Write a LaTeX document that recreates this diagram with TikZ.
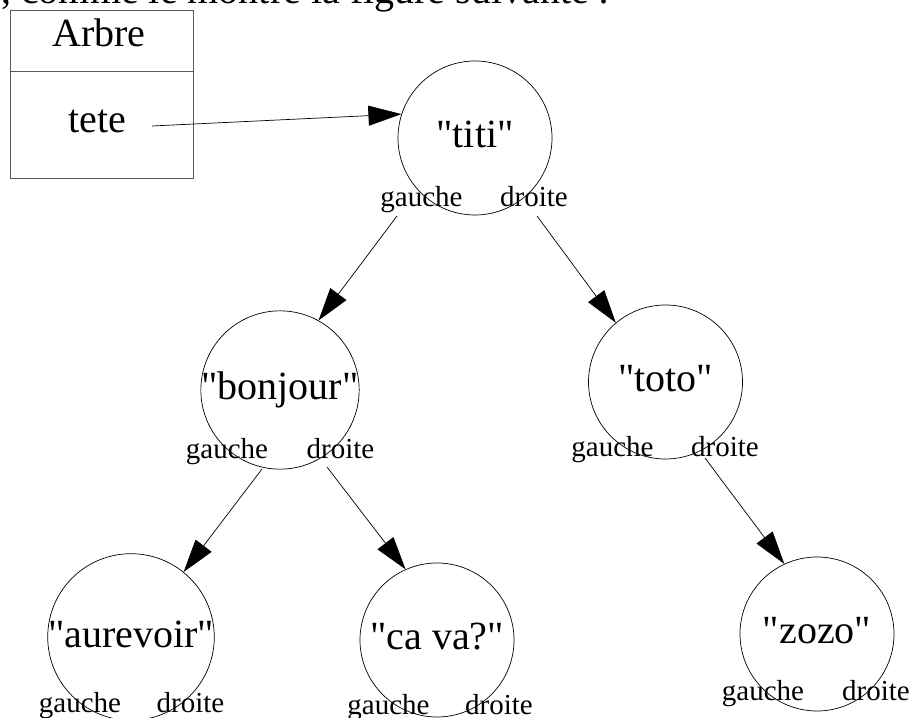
\documentclass[tikz,border=0pt]{standalone}
\usepackage{fontspec}
\setmainfont{Liberation Serif}
\usetikzlibrary{arrows.meta,positioning}
\newcommand{\qt}[1]{\textquotedbl#1\textquotedbl}
\begin{document}
\begin{tikzpicture}[x=1pt,y=1pt]
 		\tikzstyle{elem}=[circle, minimum size = 154pt, inner sep=0pt, draw =black, line width=0.7pt, font=\fontsize{40}{44}\selectfont, text height=20pt, text depth=0pt]
 		\tikzstyle{side}=[anchor=base, inner sep=0pt, font=\fontsize{29}{32}\selectfont]
 		\tikzstyle{connect}=[-{Triangle[length=33pt,width=20pt]}, line width=0.7pt]
 		\tikzstyle{cell}=[rectangle, draw=black!65, line width=0.9pt, minimum width=183pt, inner sep=0pt]
 		\tikzstyle{big}=[anchor=base, inner sep=0pt, font=\fontsize{40}{44}\selectfont]
 		\useasboundingbox (0,0) rectangle (912,717);
 		\node[big, anchor=base west] (intro) at (1,713) {, comme le montre la figure suivante :};
 		% la structure Arbre
 		\node[cell, minimum height=61pt] (arbre) at (101.5,676.5) {};
 		\node[cell, minimum height=107pt] (champ) at (101.5,592.5) {};
 		\node[big] (nom) at (99,670) {Arbre};
 		\node[big] (tete) at (97,584) {tete};
 		\coordinate (ptr) at (152,591);
 		% les noeuds
 		\node[elem] (titi) at (475,579) {\qt{titi}};
 		\node[elem] (bonjour) at (280,327) {\qt{bonjour}};
 			\node[elem] (toto) at (665.5,335) {\qt{toto}};
 				\node[elem] (aurevoir) at (131,80) {\qt{aurevoir}};
 				\node[elem] (cava) at (437,77) {\qt{ca va?}};
 					\node[elem] (zozo) at (817,83) {\qt{zozo}};
 		% gauche / droite
 		\node[side] (titi-g) at (421.5,510) {gauche};
 		\node[side] (titi-d) at (534,510) {droite};
 		\node[side] (bonjour-g) at (227,258) {gauche};
 		\node[side] (bonjour-d) at (340.5,258) {droite};
 		\node[side] (toto-g) at (612.5,260) {gauche};
 		\node[side] (toto-d) at (725,260) {droite};
 		\node[side] (aurevoir-g) at (80,5) {gauche};
 		\node[side] (aurevoir-d) at (190.5,5) {droite};
 		\node[side] (cava-g) at (388.5,3) {gauche};
 		\node[side] (cava-d) at (499,3) {droite};
 		\node[side] (zozo-g) at (763,17) {gauche};
 		\node[side] (zozo-d) at (876,17) {droite};
 		\coordinate (titi-gp) at (397,501);
 		\coordinate (titi-dp) at (537,501);
 		\coordinate (bonjour-gp) at (262,248);
 		\coordinate (bonjour-dp) at (327,250);
 		\coordinate (toto-dp) at (705,259);

  		\path (ptr) edge [connect] (titi.162)
  			(titi-gp) edge [connect] (bonjour.61)
  			(titi-dp) edge [connect] (toto.130)
  				(bonjour-gp) edge [connect] (aurevoir.51)
  				(bonjour-dp) edge [connect] (cava.114)
  					(toto-dp) edge [connect] (zozo.115);
 	 		\end{tikzpicture}
\end{document}
